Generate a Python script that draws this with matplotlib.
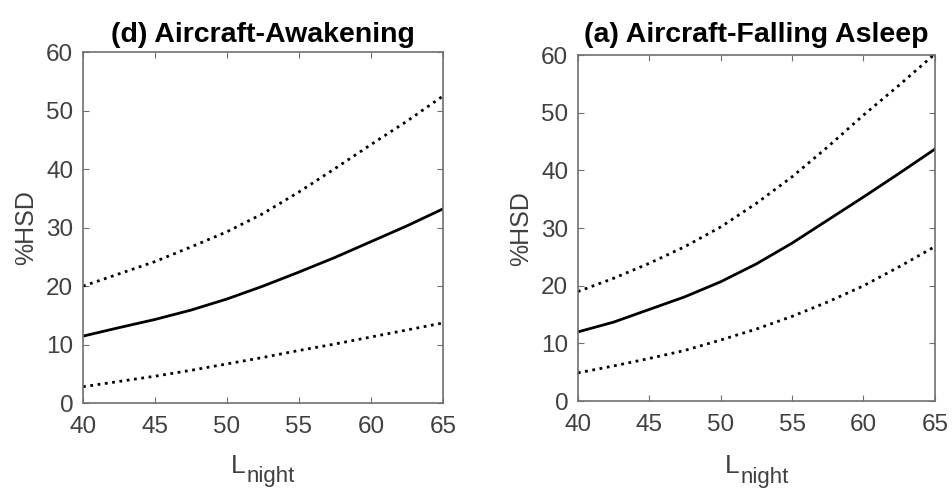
import numpy as np
import matplotlib
matplotlib.use("Agg")
import matplotlib.pyplot as plt

plt.rcParams["font.family"] = ["Liberation Sans", "DejaVu Sans"]

# noise level (dB) at which each curve is sampled
l_night = [40, 42.5, 45, 47.5, 50, 52.5, 55, 57.5, 60, 62.5, 65]

# (d) aircraft - awakening
awake_mean = [11.45, 12.9, 14.3, 15.9, 17.8, 20.0, 22.4, 24.9, 27.6, 30.3, 33.2]
awake_upper = [20.0, 22.1, 24.2, 26.7, 29.3, 32.4, 36.1, 40.1, 44.2, 48.2, 52.5]
awake_lower = [2.8, 3.7, 4.6, 5.6, 6.7, 7.8, 9.0, 10.1, 11.3, 12.5, 13.7]

# (a) aircraft - falling asleep
asleep_mean = [12.0, 13.7, 15.9, 18.1, 20.7, 23.8, 27.4, 31.4, 35.4, 39.5, 43.7]
asleep_upper = [19.0, 21.3, 23.9, 26.8, 30.2, 34.3, 38.9, 44.1, 49.6, 54.8, 60.2]
asleep_lower = [4.9, 6.1, 7.4, 8.8, 10.6, 12.5, 14.7, 17.2, 20.0, 23.3, 26.8]

x_ticks = [40, 45, 50, 55, 60, 65]
y_ticks = [0, 10, 20, 30, 40, 50, 60]

grey = "#404040"
frame = "#707070"


def draw_panel(ax, title, mean, upper, lower, title_pad, xlab_drop):
    ax.plot(l_night, upper, color="black", linestyle=":", linewidth=2.0)
    ax.plot(l_night, mean, color="black", linestyle="-", linewidth=2.0)
    ax.plot(l_night, lower, color="black", linestyle=":", linewidth=2.0)

    ax.set_xlim(40, 65)
    ax.set_ylim(0, 60)
    ax.set_xticks(x_ticks)
    ax.set_yticks(y_ticks)
    ax.tick_params(direction="in", top=True, right=True, length=4,
                   width=0.8, color=frame, labelcolor=grey, labelsize=17.5)
    ax.tick_params(axis="x", pad=9)
    ax.tick_params(axis="y", pad=7)
    for sp in ax.spines.values():
        sp.set_color(frame)
        sp.set_linewidth(1.2)

    ax.set_title(title, fontsize=20.5, fontweight="bold", pad=title_pad)
    ax.set_ylabel("%HSD", fontsize=18, color=grey, labelpad=6)

    # L with a large "night" subscript, centred under the axis
    ax.annotate("L", xy=(0.5, 0), xycoords="axes fraction",
                xytext=(-12.5, -xlab_drop), textcoords="offset points",
                ha="right", va="baseline", fontsize=19, color=grey)
    ax.annotate("night", xy=(0.5, 0), xycoords="axes fraction",
                xytext=(-11.5, -xlab_drop - 7), textcoords="offset points",
                ha="left", va="baseline", fontsize=16, color=grey)


fig = plt.figure(figsize=(9.52, 4.88), dpi=100)
ax1 = fig.add_axes([0.0872, 0.174, 0.378, 0.719])
ax2 = fig.add_axes([0.607, 0.178, 0.375, 0.709])

draw_panel(ax1, "(d) Aircraft-Awakening", awake_mean, awake_upper, awake_lower, 7.2, 50)
draw_panel(ax2, "(a) Aircraft-Falling Asleep", asleep_mean, asleep_upper, asleep_lower, 9.6, 52)

fig.savefig("out.png", dpi=100)
